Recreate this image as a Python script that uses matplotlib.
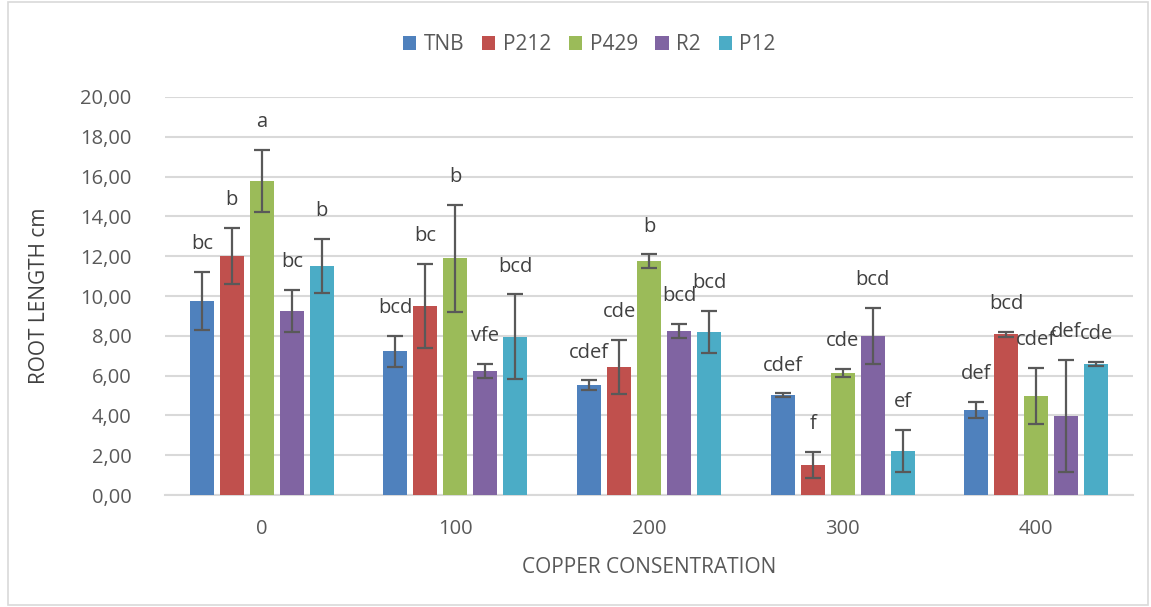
import numpy as np
import matplotlib.pyplot as plt
from matplotlib.patches import Rectangle

# -----------------------------
# DATA
# -----------------------------
concentrations = ["0", "100", "200", "300", "400"]
strains = ["TNB", "P212", "P429", "R2", "P12"]

tnb = [9.75, 7.22, 5.53, 5.03, 4.27]
p212 = [12.00, 9.50, 6.43, 1.51, 8.07]
p429 = [15.78, 11.89, 11.74, 6.13, 4.97]
r2 = [9.25, 6.22, 8.24, 7.99, 3.97]
p12 = [11.52, 7.96, 8.19, 2.21, 6.58]

tnb_err = [1.48, 0.78, 0.23, 0.08, 0.42]
p212_err = [1.42, 2.12, 1.35, 0.64, 0.14]
p429_err = [1.55, 2.68, 0.35, 0.22, 1.42]
r2_err = [1.05, 0.35, 0.35, 1.42, 2.83]
p12_err = [1.35, 2.12, 1.07, 1.06, 0.12]

tnb_lab = ["bc", "bcd", "cdef", "cdef", "def"]
p212_lab = ["b", "bc", "cde", "f", "bcd"]
p429_lab = ["a", "b", "b", "cde", "cdef"]
r2_lab = ["bc", "vfe", "bcd", "bcd", "def"]
p12_lab = ["b", "bcd", "bcd", "ef", "cde"]

values = [tnb, p212, p429, r2, p12]
errors = [tnb_err, p212_err, p429_err, r2_err, p12_err]
letters = [tnb_lab, p212_lab, p429_lab, r2_lab, p12_lab]
colors = ["#4F81BD", "#C0504D", "#9BBB59", "#8064A2", "#4BACC6"]

# -----------------------------
# STYLE
# -----------------------------
plt.rcParams.update({
    "font.family": ["Open Sans", "DejaVu Sans"],
    "font.size": 14,
})
TXT = "#595959"

fig = plt.figure(figsize=(11.51, 6.07), dpi=100)
fig.patches.append(Rectangle((0.007, 0.003), 0.99, 0.994, transform=fig.transFigure,
                             fill=False, edgecolor="#d9d9d9", linewidth=1.2))
ax = fig.add_axes([0.1434, 0.1845, 0.8410, 0.6557])

x = np.arange(len(concentrations))
step = 0.155
width = 0.124

for i, (name, vals, errs, labs, col) in enumerate(zip(strains, values, errors, letters, colors)):
    pos = x + (i - 2) * step
    ax.bar(pos, vals, width, color=col, label=name, zorder=3)
    ax.errorbar(pos, vals, yerr=errs, fmt="none", ecolor="#595959",
                elinewidth=1.6, capsize=5.5, capthick=1.6, zorder=4)
    for px, v, e, t in zip(pos, vals, errs, labs):
        ax.annotate(t, (px, v + e), xytext=(0, 20), textcoords="offset points",
                    ha="center", va="center", fontsize=14.5, color="#404040", zorder=5)

ax.set_ylim(0, 20)
ax.set_xlim(-0.5, len(concentrations) - 0.5)
ax.set_yticks(np.arange(0, 21, 2))
ax.set_yticklabels([f"{v:.2f}".replace(".", ",") for v in np.arange(0, 21, 2)])
ax.set_xticks(x)
ax.set_xticklabels(concentrations)
ax.tick_params(axis="both", length=0, colors=TXT, labelsize=14.5)
ax.tick_params(axis="y", pad=24)
ax.tick_params(axis="x", pad=17)

ax.yaxis.grid(True, color="#d9d9d9", linewidth=1.5, zorder=0)
ax.set_axisbelow(True)
for s in ["top", "right", "left"]:
    ax.spines[s].set_visible(False)
ax.spines["bottom"].set_color("#d9d9d9")
ax.spines["bottom"].set_linewidth(1.5)

ax.set_xlabel("COPPER CONSENTRATION", color=TXT, fontsize=15, labelpad=13)
ax.set_ylabel("ROOT LENGTH cm", color="#404040", fontsize=15, labelpad=22)

fig.legend(*ax.get_legend_handles_labels(), loc="center", bbox_to_anchor=(0.512, 0.926),
           ncol=5, frameon=False, fontsize=15, handlelength=0.65, handleheight=0.65,
           handletextpad=0.35, columnspacing=0.85, labelcolor=TXT)

fig.savefig("out.png", dpi=100)
